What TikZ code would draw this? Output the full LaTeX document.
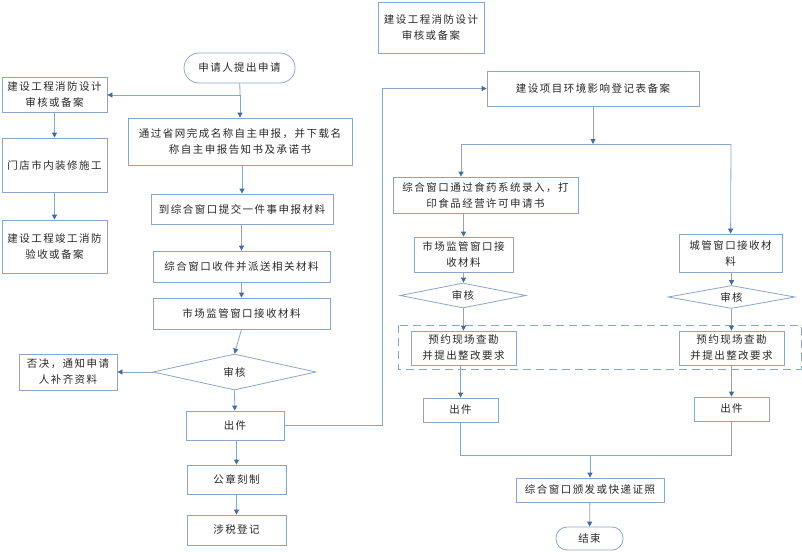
\documentclass[tikz,border=0pt]{standalone}
\usepackage{fontspec}
\setmainfont[LetterSpace=14]{Noto Sans CJK SC}
\usepackage{xcolor}
\usetikzlibrary{arrows.meta,shapes.geometric}
\definecolor{boxline}{RGB}{140,166,198}
\definecolor{tipblue}{RGB}{62,108,166}
\definecolor{txt}{RGB}{40,40,40}
\tikzset{
  bx/.style 2 args={draw=boxline, line width=0.8pt, fill=white, text=txt,
    minimum width=#1, minimum height=#2, inner sep=1pt, align=center,
    font=\fontsize{10.5}{16}\selectfont},
  term/.style 2 args={bx={#1}{#2}, rounded corners=11pt},
  chk/.style 2 args={draw=boxline, line width=0.8pt, fill=white, text=txt,
    diamond, inner sep=0pt, minimum width=#1, minimum height=#2, aspect=4,
    font=\fontsize{10.5}{16}\selectfont},
  ln/.style={draw=boxline, line width=0.8pt},
  arr/.style={ln, -{Triangle[length=5pt,width=5pt,color=tipblue]}}
}
\begin{document}
\begin{tikzpicture}[x=1pt,y=-1pt]
\useasboundingbox (0,0) rectangle (802,551);
% left column
\node[bx={106pt}{51pt}] (top) at (431,27.5) {建设工程消防设计\\审核或备案};
\node[term={111pt}{30pt}, rounded corners=15pt] (start) at (239.5,68) {申请人提出申请};
\node[bx={105pt}{35pt}] (fire1) at (54.5,94.5) {建设工程消防设计\\审核或备案};
\node[bx={224pt}{47pt}] (name) at (240,141.5) {通过省网完成名称自主申报，并下载名\\称自主申报告知书及承诺书};
\node[bx={105pt}{54pt}] (shop) at (54.5,165) {门店市内装修施工};
\node[bx={105pt}{53pt}] (fire2) at (54.5,246.5) {建设工程竣工消防\\验收或备案};
\node[bx={182pt}{30pt}] (submit) at (242,209) {到综合窗口提交一件事申报材料};
\node[bx={177pt}{31pt}] (receive) at (241.5,266.5) {综合窗口收件并派送相关材料};
\node[bx={177pt}{31pt}] (market) at (241.5,313.5) {市场监管窗口接收材料};
\node[chk={163pt}{36pt}] (audit) at (234.5,372) {审核};
\node[bx={98pt}{36pt}] (reject) at (68,372) {否决，通知申请\\人补齐资料};
\node[bx={98pt}{29pt}] (issue) at (235,425.5) {出件};
\node[bx={99pt}{29pt}] (seal) at (236.5,479.5) {公章刻制};
\node[bx={99pt}{30pt}] (tax) at (236.5,530) {涉税登记};

% right part
\draw[ln, dash pattern=on 8pt off 5pt] (398,325) rectangle (801,369);
\node[bx={212pt}{35pt}] (env) at (593,88.5) {建设项目环境影响登记表备案};
\node[bx={185pt}{36pt}] (food) at (485.5,195) {综合窗口通过食药系统录入，打\\印食品经营许可申请书};
\node[bx={99pt}{35pt}] (mkt2) at (463.5,254.5) {市场监管窗口接\\收材料};
\node[bx={103pt}{38pt}] (city) at (730.5,253) {城管窗口接收材\\料};
\node[chk={126pt}{25pt}] (aud2) at (463,295.5) {审核};
\node[chk={127pt}{23pt}] (aud3) at (731.5,297) {审核};
\node[bx={105pt}{34pt}] (site1) at (463.5,348) {预约现场查勘\\并提出整改要求};
\node[bx={105pt}{34pt}] (site2) at (731.5,348) {预约现场查勘\\并提出整改要求};
\node[bx={75pt}{24pt}] (out1) at (460.5,410) {出件};
\node[bx={75pt}{24pt}] (out2) at (731.5,409) {出件};
\node[bx={148pt}{24pt}] (cert) at (590,490) {综合窗口颁发或快递证照};
\node[term={67pt}{23pt}] (end) at (589.5,538.5) {结束};

% junctions
\coordinate (j1) at (240,95);
\coordinate (j2) at (593,144);
\coordinate (j2l) at (461,144);
\coordinate (j2r) at (731,144);
\coordinate (j3) at (590,455);
\coordinate (bend) at (382,425.5);

% connectors, left
\draw[ln] (start) -- (j1);
\draw[arr] (j1) -- (name);
\draw[arr] (j1) -- (j1 -| fire1.east);
\draw[arr] (fire1) -- (shop);
\draw[arr] (shop) -- (fire2);
\draw[arr] (name.south -| submit) -- (submit);
\draw[arr] (submit.south -| receive) -- (receive);
\draw[arr] (receive) -- (market);
\draw[arr] (market.south) -- (audit.north);
\draw[arr] (audit.west) -- (reject);
\draw[arr] (audit.south) -- (issue);
\draw[arr] (issue.south -| seal) -- (seal);
\draw[arr] (seal) -- (tax);
\draw[arr] (issue.east) -- (bend) |- (env.west);

% connectors, right
\draw[arr] (env) -- (j2);
\draw[ln] (j2l) -- (j2r);
\draw[arr] (j2l) -- (j2l |- food.north);
\draw[arr] (j2r) -- (city);
\draw[arr] (food.south -| mkt2) -- (mkt2);
\draw[arr] (mkt2) -- (aud2.north -| mkt2);
\draw[arr] (aud2.south -| mkt2) -- (site1);
\draw[arr] (site1.south -| out1) -- (out1);
\draw[arr] (city.south -| aud3) -- (aud3);
\draw[arr] (aud3) -- (site2);
\draw[arr] (site2) -- (out2);
\draw[ln] (out1) -- (out1 |- j3) -- (j3 -| out2) -- (out2);
\draw[arr] (j3) -- (cert);
\draw[arr] (cert) -- (end);
\end{tikzpicture}
\end{document}
